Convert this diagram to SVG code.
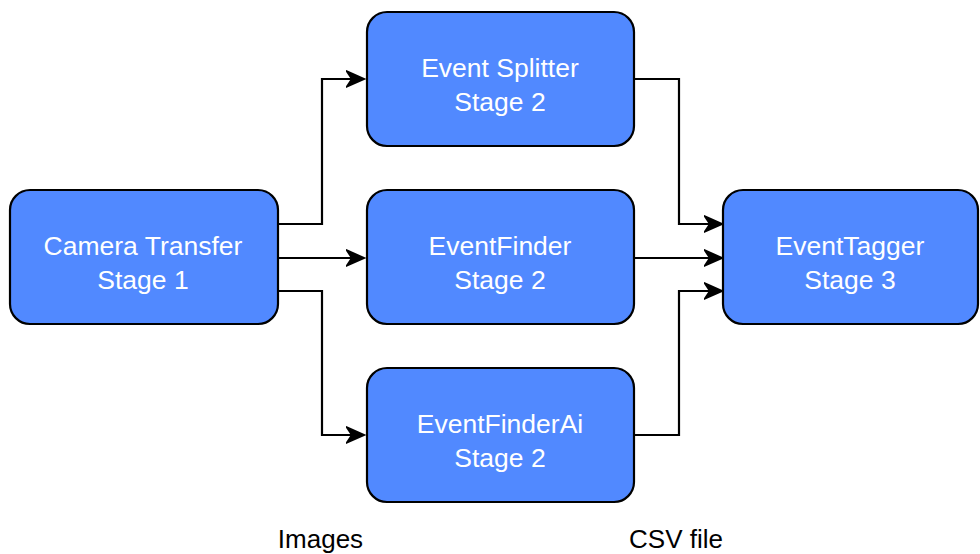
<svg xmlns="http://www.w3.org/2000/svg" width="980" height="554" viewBox="0 0 980 554">
  <style>
    .box { fill: #5189ff; stroke: #000000; stroke-width: 2.2; }
    .lbl { font-family: "Liberation Sans", Arial, sans-serif; font-size: 26.5px; fill: #ffffff; text-anchor: middle; }
    .cap { font-family: "Liberation Sans", Arial, sans-serif; font-size: 26px; fill: #000000; text-anchor: middle; }
    .edge { fill: none; stroke: #000000; stroke-width: 2.2; marker-end: url(#arr); }
  </style>
  <defs>
    <marker id="arr" markerUnits="userSpaceOnUse" markerWidth="22" markerHeight="20" refX="6" refY="9" orient="auto">
      <path d="M1,1.5 L18,9 L1,16.5 L6,9 Z" fill="#000000" stroke="#000000" stroke-width="2" stroke-linejoin="miter"/>
    </marker>
  </defs>
  <rect width="980" height="554" fill="#ffffff"/>

  <g id="connectors">
    <path class="edge" d="M278,224 H322 V79 H352"/>
    <path class="edge" d="M278,258 H352"/>
    <path class="edge" d="M278,291 H322 V435 H352"/>
    <path class="edge" d="M634,79 H679 V224 H710"/>
    <path class="edge" d="M634,258 H710"/>
    <path class="edge" d="M634,435 H679 V291 H710"/>
  </g>

  <g id="camera-transfer">
    <rect class="box" x="10" y="190" width="268" height="134" rx="20" ry="20"/>
    <text class="lbl" x="143" y="255">Camera Transfer</text>
    <text class="lbl" x="143" y="289">Stage 1</text>
  </g>
  <g id="event-splitter">
    <rect class="box" x="367" y="12" width="267" height="134" rx="20" ry="20"/>
    <text class="lbl" x="500" y="77">Event Splitter</text>
    <text class="lbl" x="500" y="111">Stage 2</text>
  </g>
  <g id="event-finder">
    <rect class="box" x="367" y="190" width="267" height="134" rx="20" ry="20"/>
    <text class="lbl" x="500" y="255">EventFinder</text>
    <text class="lbl" x="500" y="289">Stage 2</text>
  </g>
  <g id="event-finder-ai">
    <rect class="box" x="367" y="368" width="267" height="134" rx="20" ry="20"/>
    <text class="lbl" x="500" y="433">EventFinderAi</text>
    <text class="lbl" x="500" y="467">Stage 2</text>
  </g>
  <g id="event-tagger">
    <rect class="box" x="723" y="190" width="255" height="134" rx="20" ry="20"/>
    <text class="lbl" x="850" y="255">EventTagger</text>
    <text class="lbl" x="850" y="289">Stage 3</text>
  </g>

  <g id="captions">
    <text class="cap" x="320.5" y="548">Images</text>
    <text class="cap" x="676" y="548">CSV file</text>
  </g>
</svg>
